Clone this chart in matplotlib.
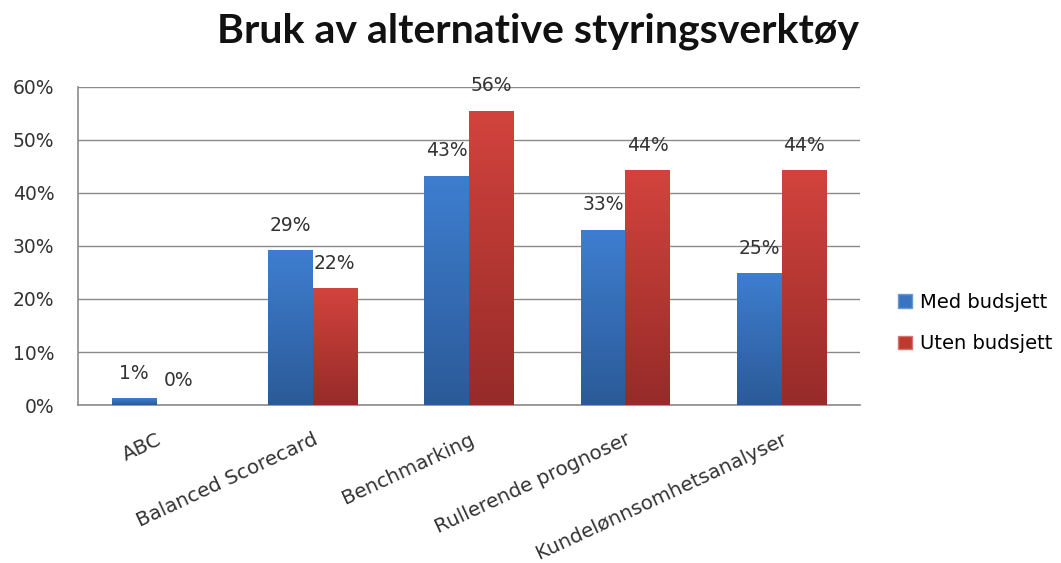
import numpy as np
import matplotlib
matplotlib.use("Agg")
import matplotlib.pyplot as plt
from matplotlib.patches import Patch
from matplotlib.colors import LinearSegmentedColormap

plt.rcParams['font.family'] = ['DejaVu Sans']

kategorier = ["ABC", "Balanced Scorecard", "Benchmarking", "Rullerende prognoser", "Kundelønnsomhetsanalyser"]
med_budsjett = [1.3, 29.2, 43.2, 33.1, 24.9]
uten_budsjett = [0.0, 22.0, 55.5, 44.3, 44.3]
serier = ["Med budsjett", "Uten budsjett"]
y_ticks = [0, 10, 20, 30, 40, 50, 60]

cmap_blaa = LinearSegmentedColormap.from_list("blaa", ["#2B5A98", "#3E7ED0"])
cmap_roed = LinearSegmentedColormap.from_list("roed", ["#962B29", "#D3433D"])
tekstfarge = "#333333"


def gradient_bars(ax, bars, cmap):
    grad = np.linspace(0, 1, 256).reshape(-1, 1)
    for b in bars:
        x, y = b.get_x(), b.get_y()
        w, h = b.get_width(), b.get_height()
        if h <= 0:
            continue
        b.set_facecolor("none")
        im = ax.imshow(grad, extent=[x, x + w, y, y + h], origin="lower",
                       aspect="auto", cmap=cmap, zorder=3)
        im.set_clip_path(b)


fig = plt.figure(figsize=(10.61, 5.63), dpi=100)
ax = fig.add_axes([0.0735, 0.2806, 0.737, 0.565])

x = np.arange(len(kategorier))
w = 0.285
b1 = ax.bar(x - w / 2, med_budsjett, w, color="#3A74C0", edgecolor="none", zorder=3)
b2 = ax.bar(x + w / 2, uten_budsjett, w, color="#C0392F", edgecolor="none", zorder=3)
gradient_bars(ax, b1, cmap_blaa)
gradient_bars(ax, b2, cmap_roed)

for bars, vals in ((b1, med_budsjett), (b2, uten_budsjett)):
    for b, v in zip(bars, vals):
        ax.annotate(f"{round(v):.0f}%", (b.get_x() + b.get_width() / 2, v),
                    xytext=(0, 18), textcoords="offset points", ha="center", va="center",
                    fontsize=13.5, color=tekstfarge)

ax.set_xlim(-0.5, 4.5)
ax.set_ylim(0, 60)
ax.set_yticks(y_ticks)
ax.set_yticklabels([f"{t}%" for t in y_ticks], fontsize=13.5, color=tekstfarge)
ax.yaxis.grid(True, color="#8a8a8a", linewidth=1)
ax.set_axisbelow(True)
ax.tick_params(axis="x", length=0, pad=18)
ax.tick_params(axis="y", length=0, pad=17)
ax.set_xticks(x)
ax.set_xticklabels(kategorier, rotation=25, ha="right", rotation_mode="anchor",
                   fontsize=14.3, color=tekstfarge)
for s in ("top", "right"):
    ax.spines[s].set_visible(False)
for s in ("left", "bottom"):
    ax.spines[s].set_color("#8a8a8a")
    ax.spines[s].set_linewidth(1.2)

fig.suptitle("Bruk av alternative styringsverktøy", x=0.507, y=0.977,
             fontsize=29.5, fontweight="bold", color="#111111", family=["Lato", "DejaVu Sans"])

handles = [Patch(facecolor="#3A74C0", edgecolor="#6a9ad6"),
           Patch(facecolor="#C0392F", edgecolor="#d97570")]
fig.legend(handles, serier, loc="center left", bbox_to_anchor=(0.83, 0.426),
           frameon=False, fontsize=14, labelspacing=1.15, handlelength=0.7,
           handleheight=0.7, handletextpad=0.45)

fig.savefig("out.png", dpi=100)
